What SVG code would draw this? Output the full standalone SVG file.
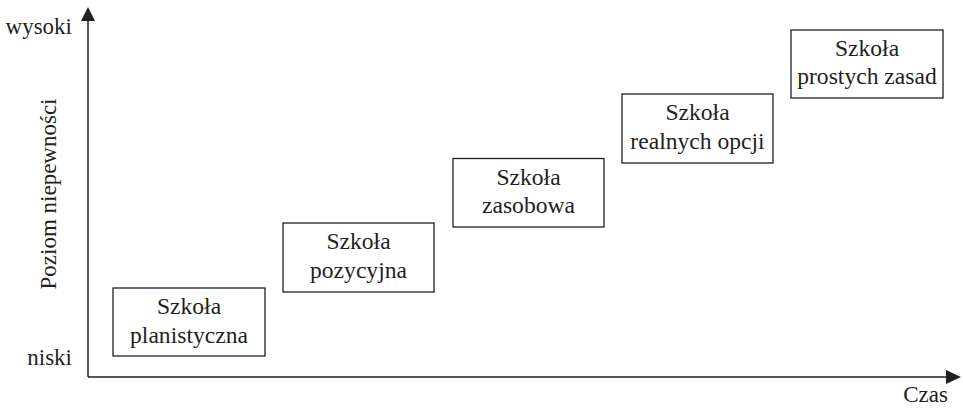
<svg xmlns="http://www.w3.org/2000/svg" width="963" height="408" viewBox="0 0 963 408">
  <style>
    text { font-family: 'Liberation Serif', 'DejaVu Serif', serif; fill: #231f20; }
    .lbl { font-size: 23px; }
    .box text { font-size: 23.6px; text-anchor: middle; }
    .box rect { fill: #ffffff; stroke: #231f20; stroke-width: 1.3; }
    .axis { stroke: #231f20; stroke-width: 1.5; fill: none; }
    .head { fill: #231f20; }
  </style>

  <rect width="963" height="408" fill="#ffffff"/>

  <!-- axes with arrowheads -->
  <g id="connectors">
    <line class="axis" x1="88" y1="377" x2="88" y2="18"/>
    <path class="head" d="M81,21 L88,7 L95,21 Z"/>
    <line class="axis" x1="88" y1="377" x2="950" y2="377"/>
    <path class="head" d="M946,370 L961,377 L946,384 Z"/>
  </g>

  <!-- axis labels -->
  <text class="lbl" x="72" y="34" text-anchor="end">wysoki</text>
  <text class="lbl" x="72" y="365" text-anchor="end">niski</text>
  <text class="lbl" x="948" y="402" text-anchor="end">Czas</text>
  <text class="lbl" font-size="23.5" transform="translate(56,194) rotate(-90)" text-anchor="middle">Poziom niepewności</text>

  <!-- schools -->
  <g id="planistyczna" class="box">
    <rect x="113" y="288" width="152" height="68"/>
    <text x="189" y="314">Szkoła</text>
    <text x="189" y="342.5">planistyczna</text>
  </g>
  <g id="pozycyjna" class="box">
    <rect x="283" y="223" width="151" height="69"/>
    <text x="358.5" y="249">Szkoła</text>
    <text x="358.5" y="277.5">pozycyjna</text>
  </g>
  <g id="zasobowa" class="box">
    <rect x="453" y="158.5" width="151" height="68.5"/>
    <text x="528.5" y="184.5">Szkoła</text>
    <text x="528.5" y="213">zasobowa</text>
  </g>
  <g id="realnych-opcji" class="box">
    <rect x="622" y="94" width="151" height="69"/>
    <text x="697.5" y="120">Szkoła</text>
    <text x="697.5" y="148.5">realnych opcji</text>
  </g>
  <g id="prostych-zasad" class="box">
    <rect x="791" y="30" width="152" height="68"/>
    <text x="867" y="55.5">Szkoła</text>
    <text x="867" y="84">prostych zasad</text>
  </g>
</svg>
